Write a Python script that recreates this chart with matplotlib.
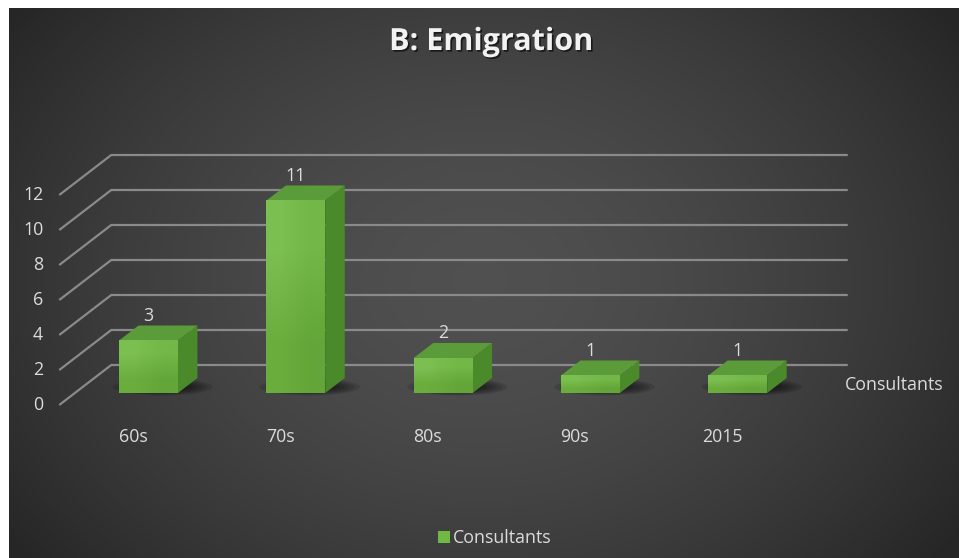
import numpy as np
import matplotlib
matplotlib.use('Agg')
import matplotlib.pyplot as plt
from matplotlib.patches import Polygon, Ellipse, Patch
import matplotlib.patheffects as pe

categories = ['60s', '70s', '80s', '90s', '2015']
values = [3, 11, 2, 1, 1]
y_ticks = [0, 2, 4, 6, 8, 10, 12]
series_name = 'Consultants'
title_text = 'B: Emigration'

plt.rcParams['font.family'] = ['Open Sans', 'DejaVu Sans']

W, H = 959, 558
fig = plt.figure(figsize=(W / 100, H / 100), dpi=100, facecolor='white')

# ---- background radial gradient ----
bg = fig.add_axes([9 / W, 0, (W - 9) / W, (H - 8) / H])
bg.set_axis_off()
yy, xx = np.mgrid[8:H, 9:W]
r = np.sqrt(((xx - 480) / 560.0) ** 2 + ((yy - 280) / 430.0) ** 2)
val = np.clip(0.315 - 0.155 * r ** 1.6, 0.15, 0.35)
bg.imshow(np.dstack([val] * 3), aspect='auto', extent=(0, 1, 0, 1),
          interpolation='bilinear')
bg.set_xlim(0, 1)
bg.set_ylim(0, 1)

# ---- main axes (oblique projection) ----
ax = fig.add_axes([0, 0, 1, 1])
ax.set_axis_off()
ax.patch.set_alpha(0)

px_c, px_v = 147.3, 17.5        # pixels per category unit / value unit
x0, y0 = 148.5, 393.0           # pixel of category 0, value 0 on bar front plane
DX, DY = 52 / px_c, 40 / px_v   # full floor depth in data units
D_FRONT, D_BACK = 0.3, 0.675


def P(c, v, d):
    return (c + (d - D_FRONT) * DX, v + (d - D_FRONT) * DY)


n = len(categories)
cl, cr = -0.5, n - 0.5
grid_col = '#8a8a8a'
txt_col = '#dcdcdc'
fs = 12.8

for v in y_ticks:
    a = P(cl, v, 0)
    b = P(cl, v, 1)
    e = P(cr, v, 1)
    ax.plot([a[0], b[0], e[0]], [a[1], b[1], e[1]], color=grid_col, lw=1.6,
            solid_capstyle='butt', zorder=1)
    ax.text(a[0] - 16 / px_c, a[1], str(v), ha='right', va='center',
            fontsize=fs, color=txt_col, zorder=5)

# ---- bars ----
hw = 0.2
for i, v in enumerate(values):
    c = i
    # shadow
    sx = c + 14 / px_c
    sy = (y0 - 387) / px_v
    for k in range(6):
        f = 1 - k / 6.0
        ax.add_patch(Ellipse((sx, sy), (60 * f + 40) / px_c, (12 * f + 5) / px_v,
                             facecolor='black', edgecolor='none', alpha=0.12,
                             zorder=2))
    # front face gradient
    grad = np.array([[[0.49, 0.75, 0.32], [0.45, 0.72, 0.28]],
                     [[0.42, 0.68, 0.24], [0.39, 0.65, 0.22]]])
    ax.imshow(grad, extent=(c - hw, c + hw, 0, v), aspect='auto',
              interpolation='bilinear', zorder=4)
    # side face
    side = [P(c + hw, 0, D_FRONT), P(c + hw, v, D_FRONT),
            P(c + hw, v, D_BACK), P(c + hw, 0, D_BACK)]
    ax.add_patch(Polygon(side, closed=True, facecolor='#4a8a2b',
                         edgecolor='none', zorder=3))
    # top face
    top = [P(c - hw, v, D_FRONT), P(c + hw, v, D_FRONT),
           P(c + hw, v, D_BACK), P(c - hw, v, D_BACK)]
    ax.add_patch(Polygon(top, closed=True, facecolor='#5b9b39',
                         edgecolor='none', zorder=3))
    # data label
    lx, ly = P(c, v, D_BACK)
    ax.text(c, ly + 0.5 / px_v, str(v), ha='center', va='bottom',
            fontsize=fs, color=txt_col, zorder=5)
    # category label
    cx, _ = P(c, 0, 0)
    ax.text(cx, (y0 - 437) / px_v, categories[i], ha='center', va='center',
            fontsize=fs, color=txt_col, zorder=5)

# depth (series) axis label
sx, sy = P(cr, 0, 0.5)
ax.text(sx + 23 / px_c, sy, series_name, ha='left', va='center',
        fontsize=fs, color=txt_col, zorder=5)

ax.set_xlim((0 - x0) / px_c, (W - x0) / px_c)
ax.set_ylim((y0 - H) / px_v, y0 / px_v)

# ---- title ----
fig.text(491 / W, 1 - 42 / H, title_text, ha='center', va='center',
         fontsize=22, fontweight='bold', color='#f2f2f2',
         path_effects=[pe.withSimplePatchShadow(offset=(1.2, -1.2),
                                                shadow_rgbFace='black',
                                                alpha=0.6)])

# ---- legend ----
fig.legend(handles=[Patch(facecolor='#6fb842', edgecolor='none')],
           labels=[series_name], loc='center', bbox_to_anchor=(0.516, 1 - 538 / H),
           frameon=False, handlelength=0.7, handleheight=0.7,
           handletextpad=0.15, fontsize=12.8, labelcolor=txt_col)

fig.savefig('out.png', dpi=100, facecolor='white')
